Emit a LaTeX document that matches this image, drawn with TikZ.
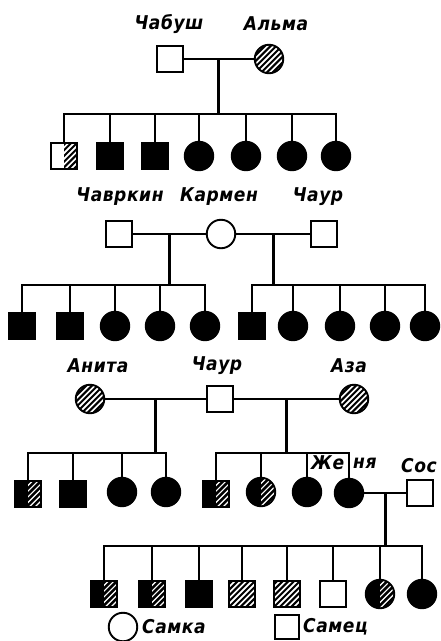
\documentclass[tikz,border=0pt]{standalone}
\usepackage{fontspec}
\newfontfamily\lblfont{DejaVu Sans Condensed}[LetterSpace=3]
\newcommand\hatchlines[1]{\foreach \k in {-8,...,8}{\draw[line width=#1] ([xshift={\k*5.7pt-22pt}, yshift=-22pt]path picture bounding box.center) -- ([xshift={\k*5.7pt+22pt}, yshift=22pt]path picture bounding box.center);}}
\begin{document}
\begin{tikzpicture}[x=1pt,y=-1pt,
  conn/.style={line width=2.8pt},
  person/.style={draw, line width=1.9pt, inner sep=0pt, fill=white},
  male/.style={person, rectangle, minimum size=25.5pt},
  female/.style={person, circle, minimum size=28.5pt},
  aff/.style={fill=black},
  hatchall/.style={path picture={\hatchlines{2pt}}},
  halfwh/.style={path picture={\begin{scope}\clip (path picture bounding box.north) rectangle (path picture bounding box.south east); \hatchlines{2pt}\end{scope}}},
  halfbh/.style={path picture={\fill[black] (path picture bounding box.north west) rectangle (path picture bounding box.south); \begin{scope}\clip (path picture bounding box.north) rectangle (path picture bounding box.south east); \hatchlines{2.5pt}\end{scope}}},
  lbl/.style={font=\lblfont\bfseries\itshape\fontsize{19}{23}\selectfont, inner sep=0pt}
]
\useasboundingbox (0,0) rectangle (440,641);
\fill[white] (0,0) rectangle (440,641);

% ---------- Generation 1 ----------
\node[male] (chabush) at (170,59) {};
\node[female, hatchall] (alma) at (269,59) {};
\node[lbl] (lchabush) at (169,24) {Чабуш};
\node[lbl] (lalma) at (276,24) {Альма};
\draw[conn] (chabush) -- coordinate (m1) (alma);
\coordinate (s1) at (0,114);
\node[male, halfwh] (a1) at (64,156) {};
\node[male, aff] (a2) at (110,156) {};
\node[male, aff] (a3) at (155,156) {};
\node[female, aff] (a4) at (199,156) {};
\node[female, aff] (a5) at (246,156) {};
\node[female, aff] (a6) at (292,156) {};
\node[female, aff] (a7) at (336,156) {};
\draw[conn] (m1) -- (m1 |- s1);
\draw[conn] (a1.north) |- (a7.north |- s1) -- (a7.north);
\foreach \c in {a2,a3,a4,a5,a6} \draw[conn] (\c.north) -- (\c.north |- s1);

% ---------- Generation 2 ----------
\node[male] (chavrkin) at (119,234) {};
\node[female] (karmen) at (221,234) {};
\node[male] (chaur) at (324,234) {};
\node[lbl] (lchavrkin) at (120,197) {Чавркин};
\node[lbl] (lkarmen) at (219,197) {Кармен};
\node[lbl] (lchaur) at (318,197) {Чаур};
\draw[conn] (chavrkin) -- coordinate (m2) (karmen);
\draw[conn] (karmen) -- coordinate (m3) (chaur);
\coordinate (s2) at (0,285);
\node[male, aff] (b1) at (22,326) {};
\node[male, aff] (b2) at (70,326) {};
\node[female, aff] (b3) at (115,326) {};
\node[female, aff] (b4) at (160,326) {};
\node[female, aff] (b5) at (205,326) {};
\node[male, aff] (c1) at (252,326) {};
\node[female, aff] (c2) at (293,326) {};
\node[female, aff] (c3) at (340,326) {};
\node[female, aff] (c4) at (385,326) {};
\node[female, aff] (c5) at (425,326) {};
\draw[conn] (m2) -- (m2 |- s2);
\draw[conn] (m3) -- (m3 |- s2);
\draw[conn] (b1.north) |- (b5.north |- s2) -- (b5.north);
\foreach \c in {b2,b3,b4} \draw[conn] (\c.north) -- (\c.north |- s2);
\draw[conn] (c1.north) |- (c5.north |- s2) -- (c5.north);
\foreach \c in {c2,c3,c4} \draw[conn] (\c.north) -- (\c.north |- s2);

% ---------- Generation 3 ----------
\node[female, hatchall] (anita) at (90,399) {};
\node[male] (chaur2) at (220,399) {};
\node[female, hatchall] (aza) at (354,399) {};
\node[lbl] (lanita) at (98,366) {Анита};
\node[lbl] (lchaur2) at (217,366) {Чаур};
\node[lbl] (laza) at (349,366) {Аза};
\draw[conn] (anita) -- coordinate (m4) (chaur2);
\draw[conn] (chaur2) -- coordinate (m5) (aza);
\coordinate (s3) at (0,453);
\node[male, halfbh] (d1) at (28,494) {};
\node[male, aff] (d2) at (73,494) {};
\node[female, aff] (d3) at (122,492) {};
\node[female, aff] (d4) at (166,492) {};
\node[male, halfbh] (e1) at (216,494) {};
\node[female, halfbh] (e2) at (261,492) {};
\node[female, aff] (e3) at (307,492) {};
\node[female, aff] (zhenya) at (349,493) {};
\node[male] (sos) at (420,493) {};
\node[lbl, anchor=west] (lzhe) at (311,463) {Же};
\node[lbl, anchor=west] (lnya) at (353,463) {ня};
\node[lbl] (lsos) at (419,466) {Сос};
\draw[conn] (m4) -- (m4 |- s3);
\draw[conn] (m5) -- (m5 |- s3);
\draw[conn] (d1.north) |- (d4.north |- s3) -- (d4.north);
\foreach \c in {d2,d3} \draw[conn] (\c.north) -- (\c.north |- s3);
\draw[conn] (e1.north) |- (zhenya.north |- s3) -- (zhenya.north);
\foreach \c in {e2,e3} \draw[conn] (\c.north) -- (\c.north |- s3);
\draw[conn] (zhenya) -- coordinate (m6) (sos);

% ---------- Generation 4 ----------
\coordinate (s4) at (0,546);
\node[male, halfbh] (f1) at (104,594) {};
\node[male, halfbh] (f2) at (152,594) {};
\node[male, aff] (f3) at (199,594) {};
\node[male, hatchall] (f4) at (242,594) {};
\node[male, hatchall] (f5) at (287,594) {};
\node[male] (f6) at (333,594) {};
\node[female, halfbh] (f7) at (380,594) {};
\node[female, aff] (f8) at (422,594) {};
\draw[conn] (m6) -- (m6 |- s4);
\draw[conn] (f1.north) |- (f8.north |- s4) -- (f8.north);
\foreach \c in {f2,f3,f4,f5,f6,f7} \draw[conn] (\c.north) -- (\c.north |- s4);

% ---------- Legend ----------
\node[female] (legf) at (123,627) {};
\node[lbl, anchor=west] (legft) at (142,627) {Самка};
\node[male, minimum size=24pt] (legm) at (287,627) {};
\node[lbl, anchor=west] (legmt) at (303,627) {Самец};
\end{tikzpicture}
\end{document}
